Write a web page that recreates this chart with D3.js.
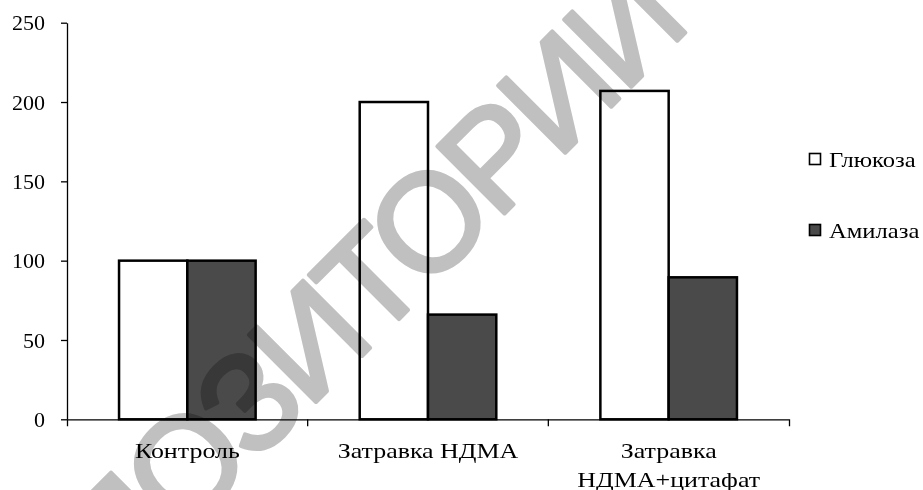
<!DOCTYPE html>
<html>
<head>
<meta charset="utf-8">
<script src="https://cdn.jsdelivr.net/npm/d3@7"></script>
<style>
  html, body { margin: 0; padding: 0; background: #fff; }
  svg { display: block; }
  .lbl { font-family: "Liberation Serif", "Times New Roman", serif; fill: #000; }
</style>
</head>
<body>
<svg id="chart" width="923" height="490"></svg>
<script>
const categories = ["Контроль", "Затравка НДМА", "Затравка\nНДМА+цитафат"];
const seriesNames = ["Глюкоза", "Амилаза"];
const glucose = [100, 200, 207];
const amylase = [100, 66, 89.5];
const yTicks = [0, 50, 100, 150, 200, 250];
const watermark = "РЕПОЗИТОРИЙ";

const seriesValues = [glucose, amylase];
const fills = ["#ffffff", "#4a4a4a"];

const svg = d3.select("#chart");
const W = 923, H = 490;
svg.append("rect").attr("width", W).attr("height", H).attr("fill", "#fff");

const x0 = d3.scaleBand().domain(categories).range([67, 789]).paddingInner(0).paddingOuter(0);
const x1 = d3.scaleBand().domain(seriesNames).range([0, x0.bandwidth()]).paddingInner(0).paddingOuter(0.762);
const y = d3.scaleLinear().domain([0, 250]).range([419.3, 22.7]);

const tickFont = 22;
const labelFont = 22;
const stretch = 1.18;
const legendStretch = 1.12;

// Y axis
const yAxis = svg.append("g").attr("transform", "translate(67,0)")
  .call(d3.axisLeft(y).tickValues(yTicks).tickSizeInner(6).tickSizeOuter(0).tickPadding(16).tickFormat(d3.format("d")));
yAxis.select(".domain").attr("stroke", "#000").attr("stroke-width", 1.3);
yAxis.selectAll(".tick line").attr("stroke", "#000").attr("stroke-width", 1.3);
yAxis.selectAll(".tick text").attr("class", "lbl").attr("font-size", tickFont).attr("font-family", "Liberation Serif").attr("fill", "#000");

// Bars
const groups = svg.append("g").selectAll("g").data(categories).join("g")
  .attr("transform", d => `translate(${x0(d)},0)`);
groups.selectAll("rect").data((c, i) => seriesNames.map((s, j) => ({ s, j, v: seriesValues[j][i] })))
  .join("rect")
  .attr("x", d => x1(d.s))
  .attr("width", x1.bandwidth())
  .attr("y", d => y(d.v))
  .attr("height", d => y(0) - y(d.v))
  .attr("fill", d => fills[d.j])
  .attr("stroke", "#000")
  .attr("stroke-width", 2.5);

// X axis
const xAxis = svg.append("g").attr("transform", `translate(0,${y(0)})`)
  .call(d3.axisBottom(x0).tickSizeInner(0).tickSizeOuter(7).tickFormat(""));
xAxis.select(".domain").attr("stroke", "#000").attr("stroke-width", 1.3);
xAxis.selectAll(".tick line").remove();
xAxis.selectAll(".bound").data(categories.slice(1)).join("line")
  .attr("class", "bound")
  .attr("x1", d => x0(d)).attr("x2", d => x0(d))
  .attr("y1", 0).attr("y2", 7)
  .attr("stroke", "#000").attr("stroke-width", 1.3);

// Category labels
categories.forEach(c => {
  const lines = c.split("\n");
  const cx = x0(c) + x0.bandwidth() / 2;
  const t = svg.append("text").attr("class", "lbl")
    .attr("transform", `translate(${cx},458) scale(${stretch},1)`)
    .attr("text-anchor", "middle")
    .attr("font-size", labelFont);
  lines.forEach((l, k) => {
    t.append("tspan").attr("x", 0).attr("dy", k === 0 ? 0 : 29.5).text(l);
  });
});

// Legend
const legend = svg.append("g");
seriesNames.forEach((s, j) => {
  const ly = 159 + j * 71;
  legend.append("rect").attr("x", 809.5).attr("y", ly - 5.5).attr("width", 11).attr("height", 11)
    .attr("fill", fills[j]).attr("stroke", "#000").attr("stroke-width", 1.6);
  legend.append("text").attr("class", "lbl")
    .attr("transform", `translate(829,${ly + 8}) scale(${legendStretch},1)`)
    .attr("font-size", labelFont).text(s);
});

// Watermark
svg.append("text")
  .attr("transform", "translate(-6,724) rotate(-45)")
  .attr("font-size", 138)
  .attr("letter-spacing", -6)
  .style("font-family", "'Liberation Sans', Arial, sans-serif")
  .style("fill", "#c0c0c0")
  .style("stroke", "#c0c0c0")
  .style("stroke-width", 4)
  .style("stroke-linejoin", "round")
  .style("mix-blend-mode", "multiply")
  .text(watermark);
</script>
</body>
</html>
